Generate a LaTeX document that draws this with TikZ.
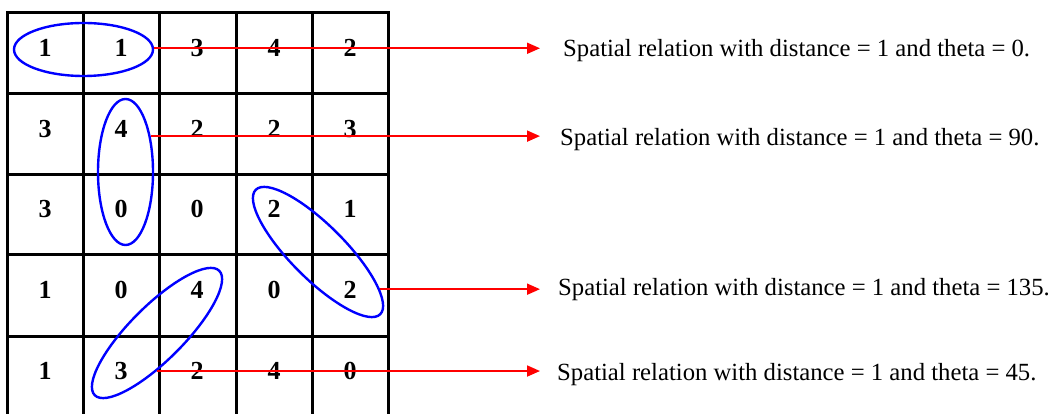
\documentclass[tikz,border=0pt]{standalone}
\usepackage{fontspec}
\setmainfont{Liberation Serif}
\usetikzlibrary{arrows.meta,shapes.geometric}

\begin{document}
\begin{tikzpicture}[x=1pt,y=1pt,
  gridline/.style={line width=3pt},
  digit/.style={font=\fontsize{26}{26}\selectfont\bfseries, inner sep=0pt},
  loop/.style={ellipse, draw=blue, line width=2.4pt, inner sep=0pt},
  link/.style={red, line width=1.8pt, -{Triangle[length=13pt,width=11pt]}},
  caption/.style={font=\fontsize{24.7}{26}\selectfont, anchor=base west, inner sep=0pt}]
\useasboundingbox (0,0) rectangle (1048,414);
% grid
\draw[gridline] (7,-4) rectangle (388,401);
\draw[gridline] (83,-4) -- (83,401) (159,-4) -- (159,401) (236,-4) -- (236,401) (312,-4) -- (312,401);
\draw[gridline] (7,320) -- (388,320) (7,239) -- (388,239) (7,159) -- (388,159) (7,77) -- (388,77);
% row 1
\node[digit] (c11) at (45,366) {1};
\node[digit] (c12) at (121,366) {1};
\node[digit] (c13) at (197,366) {3};
\node[digit] (c14) at (274,366) {4};
\node[digit] (c15) at (350,366) {2};
% row 2
\node[digit] (c21) at (45,285) {3};
\node[digit] (c22) at (121,285) {4};
\node[digit] (c23) at (197,285) {2};
\node[digit] (c24) at (274,285) {2};
\node[digit] (c25) at (350,285) {3};
% row 3
\node[digit] (c31) at (45,205) {3};
\node[digit] (c32) at (121,205) {0};
\node[digit] (c33) at (197,205) {0};
\node[digit] (c34) at (274,205) {2};
\node[digit] (c35) at (350,205) {1};
% row 4
\node[digit] (c41) at (45,124) {1};
\node[digit] (c42) at (121,124) {0};
\node[digit] (c43) at (197,124) {4};
\node[digit] (c44) at (274,124) {0};
\node[digit] (c45) at (350,124) {2};
% row 5
\node[digit] (c51) at (45,43) {1};
\node[digit] (c52) at (121,43) {3};
\node[digit] (c53) at (197,43) {2};
\node[digit] (c54) at (274,43) {4};
\node[digit] (c55) at (350,43) {0};
% pairs
\node[loop, minimum width=139pt, minimum height=53pt] (e1) at (83.5,364.5) {};
\node[loop, minimum width=55pt, minimum height=146pt] (e2) at (125.5,242) {};
\node[loop, minimum width=176pt, minimum height=54pt, rotate=-45] (e3) at (318,162) {};
\node[loop, minimum width=176pt, minimum height=54pt, rotate=45] (e4) at (157,81) {};
% captions
\node[caption] (t1) at (563,357) {Spatial relation with distance = 1 and theta = 0.};
\node[caption] (t2) at (560,268) {Spatial relation with distance = 1 and theta = 90.};
\node[caption] (t3) at (558,118) {Spatial relation with distance = 1 and theta = 135.};
\node[caption] (t4) at (557,33) {Spatial relation with distance = 1 and theta = 45.};
\coordinate (tip) at (540,0);
\draw[link] (e1.1) -- (e1.1 -| tip);
\draw[link] (e2.55) -- (e2.55 -| tip);
\draw[link] (e3.14) -- (e3.14 -| tip);
\draw[link] (e4.225) -- (e4.225 -| tip);
\end{tikzpicture}
\end{document}
